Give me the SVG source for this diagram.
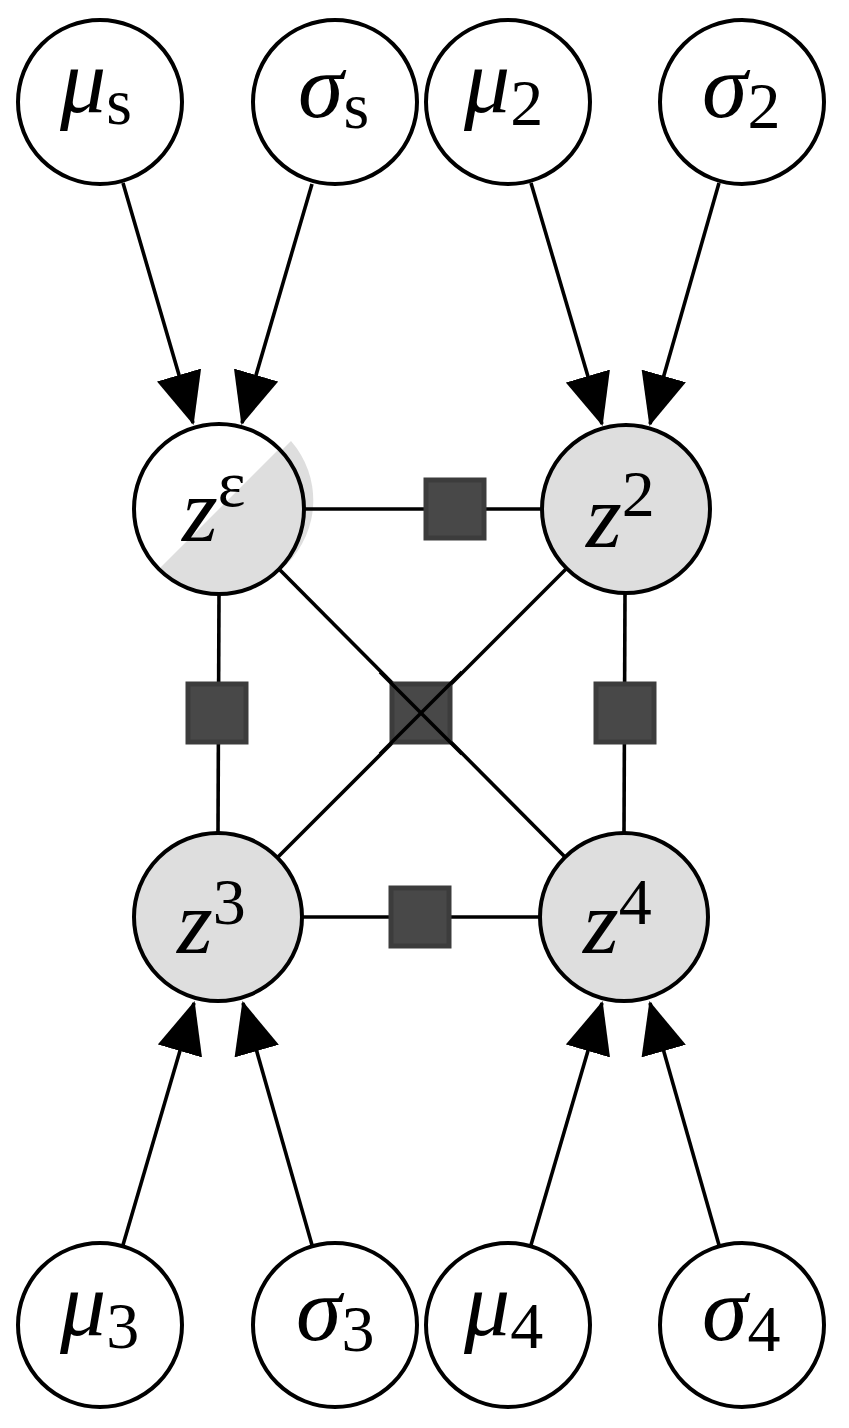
<svg xmlns="http://www.w3.org/2000/svg" width="849" height="1428" viewBox="0 0 849 1428">
<style>
.n{fill:#fff;stroke:#000;stroke-width:4}
.o{fill:#dedede;stroke:#000;stroke-width:4}
.e{stroke:#000;stroke-width:3.6;fill:none}
.f{fill:#484848;stroke:#3c3c3c;stroke-width:5}
.t{font-family:"Liberation Serif","DejaVu Serif",serif;font-size:92px;fill:#000}
.i{font-style:italic}
.s{font-size:66px;font-style:normal}
</style>
<defs>
<marker id="ah" markerUnits="userSpaceOnUse" viewBox="0 0 52 46" markerWidth="52" markerHeight="46" refX="50" refY="23" orient="auto">
<path d="M0,0 L52,23 L0,46 Z" fill="#000"/>
</marker>
</defs>
<g id="node-z-eps-shade">
<path d="M291,441 A90,90 0 0 1 164,568 Z" fill="#dedede"/>
<path d="M280,448 A85,85 0 0 1 159,569 L219,509 Z" fill="#dedede"/>
</g>
<g id="connectors">
<line class="e" x1="123" y1="183" x2="193" y2="423" marker-end="url(#ah)"/>
<line class="e" x1="312" y1="184" x2="242" y2="423" marker-end="url(#ah)"/>
<line class="e" x1="531" y1="183" x2="602" y2="424" marker-end="url(#ah)"/>
<line class="e" x1="719" y1="183" x2="650" y2="424" marker-end="url(#ah)"/>
<line class="e" x1="123" y1="1245" x2="194" y2="1003" marker-end="url(#ah)"/>
<line class="e" x1="312" y1="1245" x2="243" y2="1003" marker-end="url(#ah)"/>
<line class="e" x1="531" y1="1245" x2="602" y2="1003" marker-end="url(#ah)"/>
<line class="e" x1="719" y1="1245" x2="650" y2="1003" marker-end="url(#ah)"/>
<line class="e" x1="303" y1="509" x2="542" y2="509"/>
<line class="e" x1="302" y1="917" x2="541" y2="917"/>
<line class="e" x1="219" y1="594" x2="218" y2="833"/>
<line class="e" x1="625" y1="593" x2="624" y2="833"/>
<line class="e" x1="279" y1="569" x2="566" y2="858"/>
<line class="e" x1="566" y1="569" x2="278" y2="857"/>
</g>
<g id="factor-top"><rect class="f" x="426" y="480" width="58" height="58"/></g>
<g id="factor-left"><rect class="f" x="188" y="684" width="58" height="58"/></g>
<g id="factor-center"><rect class="f" x="392" y="684" width="58" height="58"/></g>
<g id="factor-right"><rect class="f" x="596" y="684" width="58" height="58"/></g>
<g id="factor-bottom"><rect class="f" x="391" y="888" width="58" height="58"/></g>
<g id="connectors-over-center">
<line class="e" x1="380" y1="672" x2="462" y2="754"/>
<line class="e" x1="462" y1="672" x2="380" y2="754"/>
</g>
<g id="node-mu-s"><circle class="n" cx="100" cy="102" r="82"/><text class="t" x="60" y="112"><tspan class="i">μ</tspan><tspan class="s" dy="12">s</tspan></text></g>
<g id="node-sigma-s"><circle class="n" cx="335" cy="102" r="82"/><text class="t" x="298" y="117"><tspan class="i">σ</tspan><tspan class="s" dy="11">s</tspan></text></g>
<g id="node-mu-2"><circle class="n" cx="508" cy="102" r="82"/><text class="t" x="464" y="112"><tspan class="i">μ</tspan><tspan class="s" dy="13">2</tspan></text></g>
<g id="node-sigma-2"><circle class="n" cx="742" cy="102" r="82"/><text class="t" x="702" y="117"><tspan class="i">σ</tspan><tspan class="s" dy="11">2</tspan></text></g>
<g id="node-z-eps">
<circle cx="219" cy="509" r="85" fill="none" stroke="#000" stroke-width="4"/>
<text class="t" x="182" y="541"><tspan class="i">z</tspan><tspan class="s i" dy="-35">ε</tspan></text>
</g>
<g id="node-z-2"><circle class="o" cx="626" cy="509" r="84"/><text class="t" x="586" y="547"><tspan class="i">z</tspan><tspan class="s" dy="-31">2</tspan></text></g>
<g id="node-z-3"><circle class="o" cx="218" cy="917" r="84"/><text class="t" x="177" y="953"><tspan class="i">z</tspan><tspan class="s" dy="-29">3</tspan></text></g>
<g id="node-z-4"><circle class="o" cx="624" cy="917" r="84"/><text class="t" x="583" y="953"><tspan class="i">z</tspan><tspan class="s" dy="-29">4</tspan></text></g>
<g id="node-mu-3"><circle class="n" cx="100" cy="1325" r="82"/><text class="t" x="60" y="1335"><tspan class="i">μ</tspan><tspan class="s" dy="13">3</tspan></text></g>
<g id="node-sigma-3"><circle class="n" cx="335" cy="1325" r="82"/><text class="t" x="296" y="1340"><tspan class="i">σ</tspan><tspan class="s" dy="11">3</tspan></text></g>
<g id="node-mu-4"><circle class="n" cx="508" cy="1325" r="82"/><text class="t" x="464" y="1335"><tspan class="i">μ</tspan><tspan class="s" dy="13">4</tspan></text></g>
<g id="node-sigma-4"><circle class="n" cx="742" cy="1325" r="82"/><text class="t" x="702" y="1340"><tspan class="i">σ</tspan><tspan class="s" dy="11">4</tspan></text></g>
</svg>
